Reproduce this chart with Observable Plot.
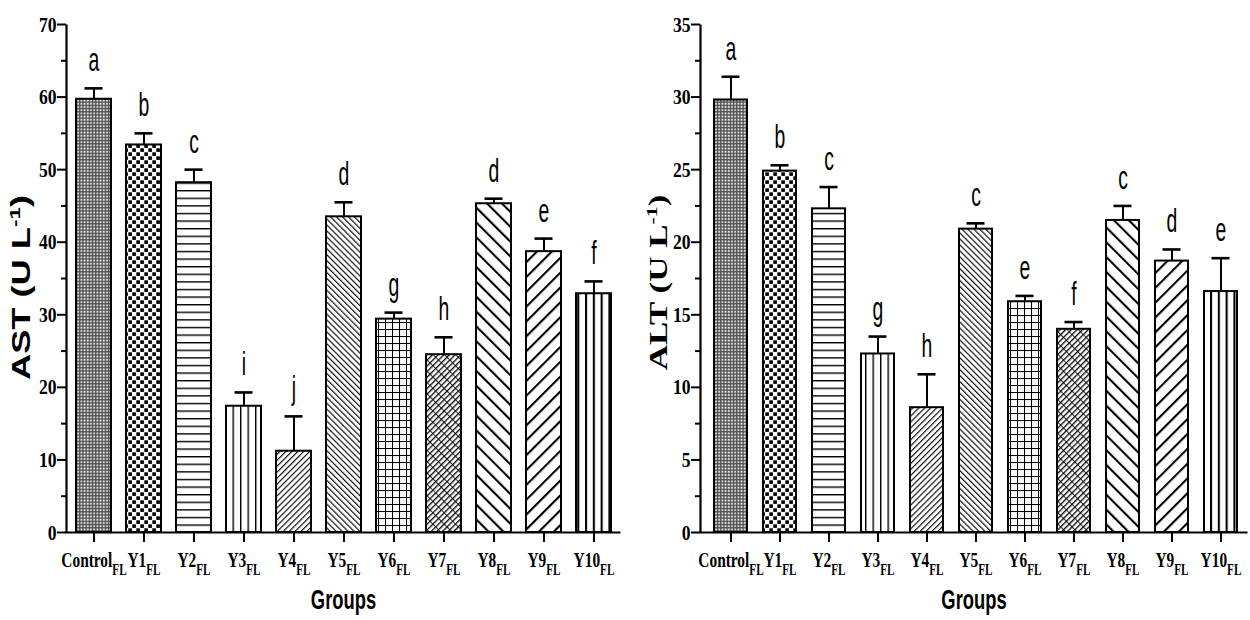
<!DOCTYPE html>
<html><head><meta charset="utf-8">
<script src="https://cdn.jsdelivr.net/npm/d3@7"></script>
<script src="https://cdn.jsdelivr.net/npm/@observablehq/plot@0.6"></script>
<style>
html,body{margin:0;padding:0;background:#fff;}
#wrap{display:flex;width:1250px;height:620px;}
#wrap svg{display:block;}
</style></head><body><div id="wrap"></div>
<script>
// ---------- data ----------
const groups = ["Control","Y1","Y2","Y3","Y4","Y5","Y6","Y7","Y8","Y9","Y10"];
const groupSub = "FL";
const astMean = [59.7, 53.4, 48.2, 17.4, 11.2, 43.5, 29.4, 24.5, 45.3, 38.7, 32.9];
const astSD   = [1.5, 1.6, 1.8, 1.9, 4.8, 2.0, 0.9, 2.4, 0.7, 1.8, 1.7];
const astLetters = ["a","b","c","i","j","d","g","h","d","e","f"];
const altMean = [29.8, 24.9, 22.3, 12.3, 8.6, 20.9, 15.9, 14.0, 21.5, 18.7, 16.6];
const altSD   = [1.6, 0.4, 1.5, 1.2, 2.3, 0.4, 0.4, 0.5, 1.0, 0.8, 2.3];
const altLetters = ["a","b","c","g","h","c","e","f","c","d","e"];
const astTicks = [0, 10, 20, 30, 40, 50, 60, 70];
const astMinor = [5, 15, 25, 35, 45, 55, 65];
const altTicks = [0, 5, 10, 15, 20, 25, 30, 35];
const altMinor = [2.5, 7.5, 12.5, 17.5, 22.5, 27.5, 32.5];
const astLabel = "AST (U L";
const altLabel = "ALT (U L";
const xLabel = "Groups";

const SERIF = "'Liberation Serif','Times New Roman',serif";
const SANS = "'Liberation Sans',Arial,sans-serif";

function addPatterns(svg, prefix) {
  const defs = d3.select(svg).insert("defs", ":first-child");
  const pat = (id, w, h, rot, bg = "white") => {
    const p = defs.append("pattern").attr("id", prefix + id)
      .attr("patternUnits", "userSpaceOnUse").attr("width", w).attr("height", h);
    if (rot) p.attr("patternTransform", `rotate(${rot})`);
    p.append("rect").attr("width", w).attr("height", h).attr("fill", bg);
    return p;
  };
  const vline = (p, x, h, sw) => p.append("line").attr("x1", x).attr("x2", x).attr("y1", 0).attr("y2", h).attr("stroke", "black").attr("stroke-width", sw);
  const hline = (p, y, w, sw) => p.append("line").attr("y1", y).attr("y2", y).attr("x1", 0).attr("x2", w).attr("stroke", "black").attr("stroke-width", sw);
  let p;
  // 0 fine dotted
  p = pat("p0", 3.2, 3.2, 0, "#505050");
  p.append("rect").attr("x", 0.5).attr("y", 0.5).attr("width", 1.7).attr("height", 1.7).attr("fill", "white");
  // 1 checker
  p = pat("p1", 8, 8);
  p.append("rect").attr("x", 0.3).attr("y", 0.3).attr("width", 3.6).attr("height", 3.6).attr("fill", "black");
  p.append("rect").attr("x", 4.3).attr("y", 4.3).attr("width", 3.6).attr("height", 3.6).attr("fill", "black");
  // 2 horizontal lines
  p = pat("p2", 10, 7.6); hline(p, 0.7, 10, 1.4);
  // 3 vertical lines
  p = pat("p3", 7.5, 10); vline(p, 0.7, 10, 1.4);
  // 4 fine "/"
  p = pat("p4", 4.2, 10, 45); vline(p, 0.6, 10, 1.1);
  // 5 fine "\"
  p = pat("p5", 4.2, 10, -45); vline(p, 0.6, 10, 1.1);
  // 6 grid
  p = pat("p6", 7, 7); vline(p, 0.5, 7, 1.1); hline(p, 0.5, 7, 1.1);
  // 7 dense weave
  p = pat("p7", 4, 8, 45); vline(p, 0.7, 8, 1.3); hline(p, 0.5, 4, 0.8);
  // 8 thick "\"
  p = pat("p8", 10.5, 10, -45); vline(p, 1, 10, 2.2);
  // 9 thick "/"
  p = pat("p9", 10.5, 10, 45); vline(p, 1, 10, 2.2);
  // 10 vertical thick
  p = pat("p10", 7.8, 10); vline(p, 1, 10, 2.2);
}

function squeeze(t, sx, sy = 1) {
  let tr = t.getAttribute("transform") || "";
  const x = t.getAttribute("x"), y = t.getAttribute("y");
  const nx = x != null && x !== "" && !isNaN(+x) ? +x : null;
  const ny = y != null && y !== "" && !isNaN(+y) ? +y : null;
  if (nx != null || ny != null) {
    tr += ` translate(${nx || 0},${ny || 0})`;
    if (nx != null) t.setAttribute("x", 0);
    if (ny != null) t.setAttribute("y", 0);
  }
  tr += ` scale(${sx},${sy})`;
  t.setAttribute("transform", tr.trim());
}

function chart({means, sds, letters, ticks, minor, ymax, label, labelFont, labelSx, labelDx, labelDy, prefix,
                marginLeft, marginRight, paddingInner, paddingOuter, align, capInset}) {
  const W = 625, H = 620, mt = 24, mb = 88;
  const data = groups.map((g, i) => ({g, i, mean: means[i], sd: sds[i], letter: letters[i]}));
  const fw = W - marginLeft - marginRight, fh = H - mt - mb;
  const svg = Plot.plot({
    width: W, height: H, marginLeft, marginRight, marginTop: mt, marginBottom: mb,
    style: {background: "white", color: "black", overflow: "visible"},
    x: {domain: groups, paddingInner, paddingOuter, align, label: null},
    y: {domain: [0, ymax], label: null},
    color: {type: "identity"},
    marks: [
      Plot.barY(data, {x: "g", y: "mean", fill: d => `url(#${prefix}p${d.i})`, stroke: "black", strokeWidth: 2}),
      Plot.ruleX(data, {x: "g", y1: "mean", y2: d => d.mean + d.sd, stroke: "black", strokeWidth: 2}),
      Plot.tickY(data, {x: "g", y: d => d.mean + d.sd, stroke: "black", strokeWidth: 2.6, insetLeft: capInset, insetRight: capInset}),
      Plot.text(data, {x: "g", y: d => d.mean + d.sd, text: "letter", dy: -17, lineAnchor: "bottom",
                       fontSize: 34, fontFamily: SANS}),
      Plot.frame({stroke: "black", strokeWidth: 2.2, strokeDasharray: `0 ${fw + fh} ${fw + fh}`}),
      Plot.axisY(ticks, {tickSize: 9, tickPadding: 1, fontSize: 22, fontFamily: SERIF, fontWeight: "bold", strokeWidth: 2, label: null}),
      Plot.axisY(minor, {tickSize: 5, tickFormat: () => "", strokeWidth: 2, label: null}),
      Plot.axisX({tickSize: 10, tickPadding: 9, fontSize: 22, fontFamily: SERIF, fontWeight: "bold", strokeWidth: 2, label: null}),
      Plot.text([label], {text: d => d, frameAnchor: "left", textAnchor: "middle", rotate: -90, dx: labelDx, dy: labelDy,
                          fontSize: 25, fontWeight: "bold", fontFamily: labelFont}),
      Plot.text([xLabel], {text: d => d, frameAnchor: "bottom", dy: 68, lineAnchor: "middle",
                           fontSize: 27, fontWeight: "bold", fontFamily: SANS})
    ]
  });
  addPatterns(svg, prefix);
  // x tick labels with subscript
  svg.querySelectorAll('g[aria-label="x-axis tick label"] text').forEach(t => {
    const name = t.textContent;
    t.textContent = "";
    const s = d3.select(t);
    s.append("tspan").text(name);
    s.append("tspan").attr("font-size", 16).attr("dy", "0.5em").text(groupSub);
    squeeze(t, 0.7);
  });
  svg.querySelectorAll('g[aria-label="y-axis tick label"] text').forEach(t => squeeze(t, 0.8));
  svg.querySelectorAll('g[aria-label="text"] text').forEach(t => {
    const c = t.textContent;
    if (c === label) {
      t.textContent = "";
      const s = d3.select(t);
      s.append("tspan").text(c);
      s.append("tspan").attr("font-size", "0.62em").attr("dy", "-0.6em").text("-1");
      s.append("tspan").attr("dy", "0.37em").text(")");
      squeeze(t, labelSx);
    } else if (c === xLabel) {
      squeeze(t, 0.68);
    } else {
      squeeze(t, 0.57);
    }
  });
  return svg;
}

const wrap = document.getElementById("wrap");
wrap.appendChild(chart({means: astMean, sds: astSD, letters: astLetters, ticks: astTicks, minor: astMinor, ymax: 70,
  label: astLabel, labelFont: SANS, labelSx: 1.45, labelDx: -45, labelDy: 9, prefix: "L",
  marginLeft: 66, marginRight: 5, paddingInner: 0.3, paddingOuter: 0.15, align: 0.55, capInset: 8.5}));
wrap.appendChild(chart({means: altMean, sds: altSD, letters: altLetters, ticks: altTicks, minor: altMinor, ymax: 35,
  label: altLabel, labelFont: SERIF, labelSx: 1.4, labelDx: -42, labelDy: 4, prefix: "R",
  marginLeft: 75, marginRight: 3, paddingInner: 0.33, paddingOuter: 0.2, align: 0.58, capInset: 7.5}));
</script></body></html>
